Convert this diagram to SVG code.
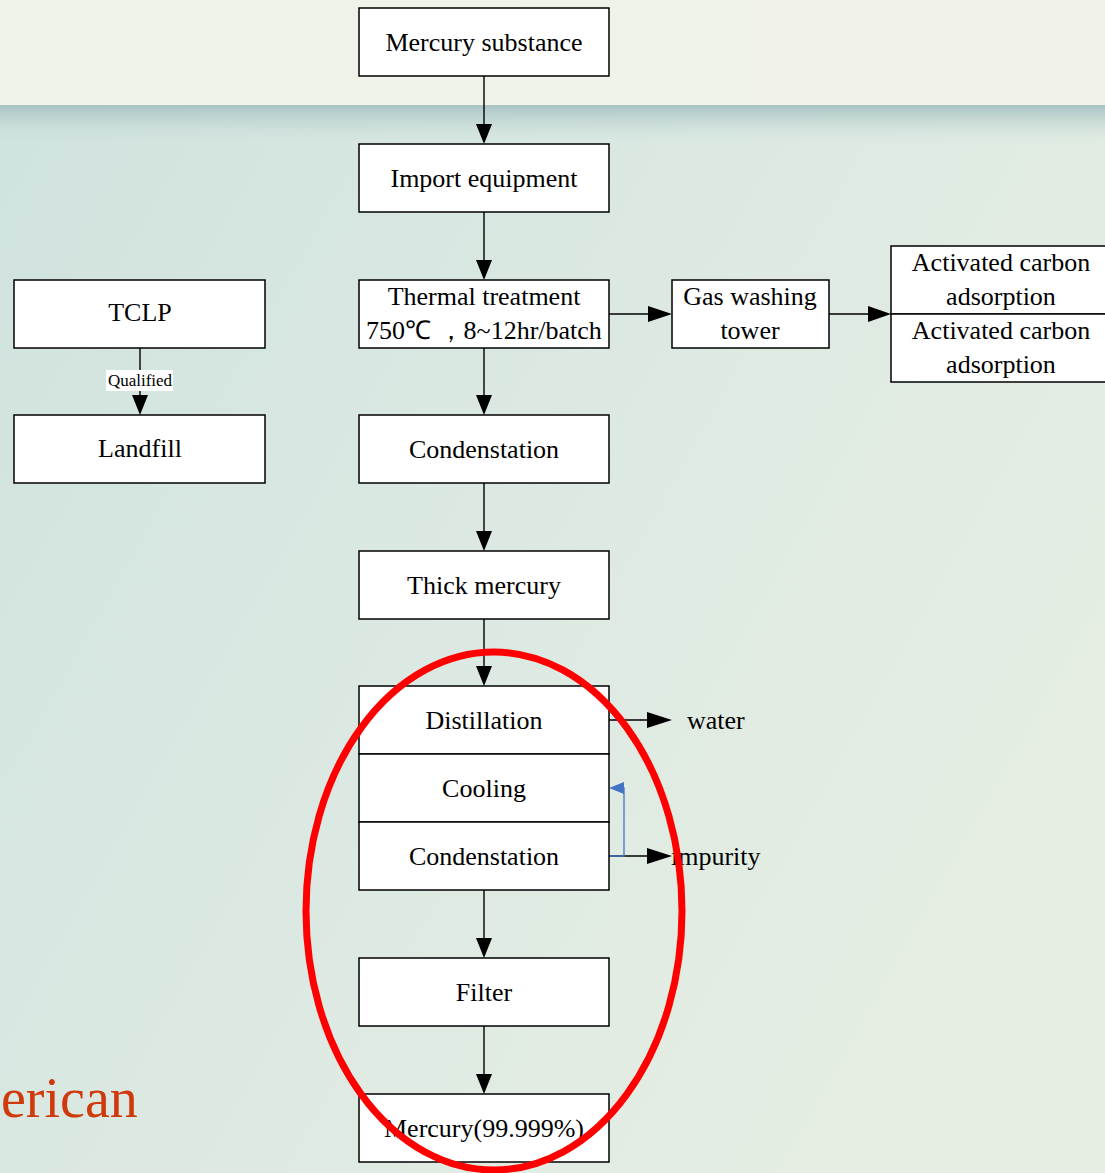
<svg xmlns="http://www.w3.org/2000/svg" width="1105" height="1173" viewBox="0 0 1105 1173">
<defs>
<linearGradient id="band" x1="0" y1="0" x2="0" y2="1">
<stop offset="0" stop-color="#a8c3c3"/>
<stop offset="1" stop-color="#d3e4df" stop-opacity="0"/>
</linearGradient>
<linearGradient id="bg" x1="0" y1="0" x2="1" y2="0.6">
<stop offset="0" stop-color="#cfe2de"/>
<stop offset="0.55" stop-color="#dce9e2"/>
<stop offset="1" stop-color="#e6eee3"/>
</linearGradient>
<linearGradient id="top" x1="0" y1="0" x2="1" y2="0">
<stop offset="0" stop-color="#eef2e9"/>
<stop offset="1" stop-color="#f1f3ea"/>
</linearGradient>
<style>
.box{fill:#fff;stroke:#000;stroke-width:1.5}
.t{font-family:"Liberation Serif","Times New Roman",serif;font-size:26px;fill:#000;text-anchor:middle}
.tl{font-family:"Liberation Serif","Times New Roman",serif;font-size:26px;fill:#000}
.c{stroke:#000;stroke-width:1.4;fill:none}
</style>
</defs>
<rect x="0" y="0" width="1105" height="1173" fill="url(#bg)"/>
<rect x="0" y="0" width="1105" height="105" fill="url(#top)"/>
<rect x="0" y="105" width="1105" height="40" fill="url(#band)"/>
<text x="1" y="1117" font-family="Liberation Serif, serif" font-size="56" fill="#cf3a0c">erican</text>

<g id="connectors">
<line class="c" x1="484" y1="76" x2="484" y2="124"/><path d="M476,124 L492,124 L484,144 Z"/>
<line class="c" x1="484" y1="212" x2="484" y2="260"/><path d="M476,260 L492,260 L484,280 Z"/>
<line class="c" x1="484" y1="348" x2="484" y2="395"/><path d="M476,395 L492,395 L484,415 Z"/>
<line class="c" x1="484" y1="483" x2="484" y2="531"/><path d="M476,531 L492,531 L484,551 Z"/>
<line class="c" x1="484" y1="619" x2="484" y2="666"/><path d="M476,666 L492,666 L484,686 Z"/>
<line class="c" x1="484" y1="890" x2="484" y2="938"/><path d="M476,938 L492,938 L484,958 Z"/>
<line class="c" x1="484" y1="1026" x2="484" y2="1074"/><path d="M476,1074 L492,1074 L484,1094 Z"/>
<line class="c" x1="609" y1="314" x2="650" y2="314"/><path d="M648,306 L672,314 L648,322 Z"/>
<line class="c" x1="829" y1="314" x2="870" y2="314"/><path d="M868,306 L891,314 L868,322 Z"/>
<line class="c" x1="609" y1="720" x2="650" y2="720"/><path d="M647,712 L672,720 L647,728 Z"/>
<line class="c" x1="609" y1="856" x2="650" y2="856"/><path d="M647,848 L672,856 L647,864 Z"/>
<line class="c" x1="140" y1="348" x2="140" y2="395"/><path d="M132,395 L148,395 L140,415 Z"/>
<rect x="106" y="370" width="67" height="21" fill="#fff"/>
<text x="140" y="386" font-family="Liberation Serif, serif" font-size="17" text-anchor="middle">Qualified</text>
<polyline points="609,856 624,856 624,788 614,788" fill="none" stroke="#4472c4" stroke-width="1.3"/>
<path d="M624,782 L609,788 L624,794 Z" fill="#4472c4"/>
</g>

<g id="n1"><rect class="box" x="359" y="8" width="250" height="68"/><text class="t" x="484" y="51">Mercury substance</text></g>
<g id="n2"><rect class="box" x="359" y="144" width="250" height="68"/><text class="t" x="484" y="187">Import equipment</text></g>
<g id="n3"><rect class="box" x="359" y="280" width="250" height="68"/><text class="t" x="484" y="305">Thermal treatment</text><text class="t" x="484" y="339">750℃ ，8~12hr/batch</text></g>
<g id="n4"><rect class="box" x="359" y="415" width="250" height="68"/><text class="t" x="484" y="458">Condenstation</text></g>
<g id="n5"><rect class="box" x="359" y="551" width="250" height="68"/><text class="t" x="484" y="594">Thick mercury</text></g>
<g id="n6"><rect class="box" x="359" y="686" width="250" height="68"/><text class="t" x="484" y="729">Distillation</text></g>
<g id="n7"><rect class="box" x="359" y="754" width="250" height="68"/><text class="t" x="484" y="797">Cooling</text></g>
<g id="n8"><rect class="box" x="359" y="822" width="250" height="68"/><text class="t" x="484" y="865">Condenstation</text></g>
<g id="n9"><rect class="box" x="359" y="958" width="250" height="68"/><text class="t" x="484" y="1001">Filter</text></g>
<g id="n10"><rect class="box" x="359" y="1094" width="250" height="68"/><text class="t" x="484" y="1137">Mercury(99.999%)</text></g>
<g id="gas"><rect class="box" x="672" y="280" width="157" height="68"/><text class="t" x="750" y="305">Gas washing</text><text class="t" x="750" y="339">tower</text></g>
<g id="ac1"><rect class="box" x="891" y="246" width="216" height="68"/><text class="t" x="1001" y="271">Activated carbon</text><text class="t" x="1001" y="305">adsorption</text></g>
<g id="ac2"><rect class="box" x="891" y="314" width="216" height="68"/><text class="t" x="1001" y="339">Activated carbon</text><text class="t" x="1001" y="373">adsorption</text></g>
<g id="tclp"><rect class="box" x="14" y="280" width="251" height="68"/><text class="t" x="140" y="321">TCLP</text></g>
<g id="landfill"><rect class="box" x="14" y="415" width="251" height="68"/><text class="t" x="140" y="457">Landfill</text></g>
<text class="tl" x="687" y="729">water</text>
<text class="tl" x="671" y="865">impurity</text>
<ellipse cx="494" cy="911" rx="188" ry="259" fill="none" stroke="#ff0000" stroke-width="7"/>
</svg>
